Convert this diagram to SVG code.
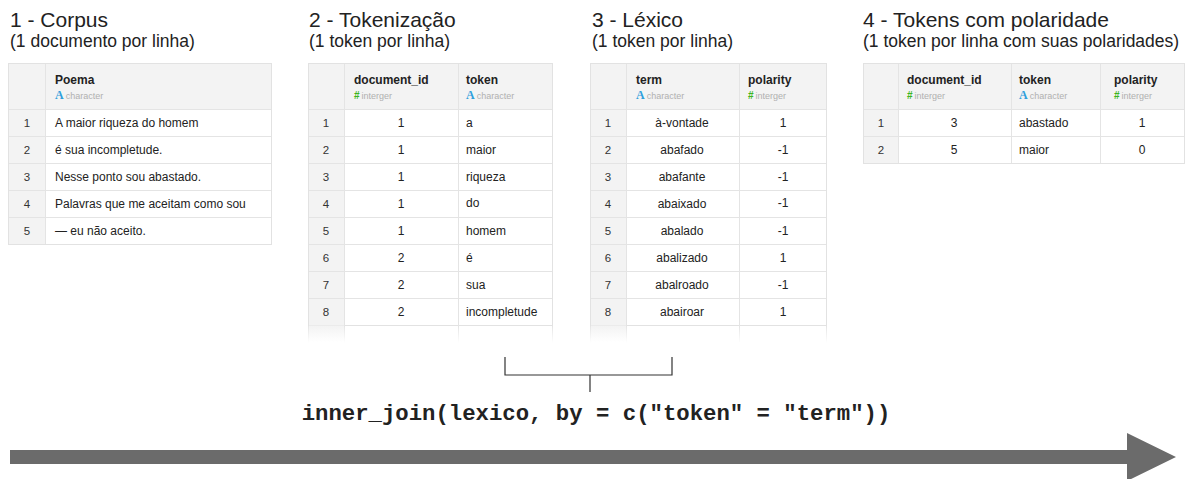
<svg xmlns="http://www.w3.org/2000/svg" width="1198" height="479" viewBox="0 0 1198 479">
<style>
.ttl{font-family:"Liberation Sans",Arial,sans-serif;font-size:21px;fill:#222}
.sub{font-family:"Liberation Sans",Arial,sans-serif;font-size:17.5px;fill:#222}
.hd{font-family:"Liberation Sans",Arial,sans-serif;font-size:12px;font-weight:bold;fill:#222}
.ty{font-family:"Liberation Sans",Arial,sans-serif;font-size:9px;fill:#b0b0b0}
.tA{font-family:"Liberation Serif","Times New Roman",serif;font-size:12px;font-weight:bold;fill:#2f9fdc}
.tN{font-family:"Liberation Sans",Arial,sans-serif;font-size:10px;font-weight:bold;fill:#3cb521}
.c{font-family:"Liberation Sans",Arial,sans-serif;font-size:12px;fill:#222}
.cm{font-family:"Liberation Sans",Arial,sans-serif;font-size:12px;fill:#222;text-anchor:middle}
.ix{font-family:"Liberation Sans",Arial,sans-serif;font-size:11.5px;fill:#333;text-anchor:middle}
.box{fill:#fff;stroke:#e2e2e2;stroke-width:1}
.gr{fill:#f3f3f3}
.ln{stroke:#e4e4e4;stroke-width:1;fill:none}
.code{font-family:"Liberation Mono","Courier New",monospace;font-size:22.3px;font-weight:bold;fill:#222;text-anchor:middle}
.br{stroke:#333;stroke-width:1.2;fill:none}
</style>
<defs>
<linearGradient id="fadeV" x1="0" y1="0" x2="0" y2="1">
<stop offset="0" stop-color="#e4e4e4"/>
<stop offset="1" stop-color="#ffffff"/>
</linearGradient>
<linearGradient id="fadeG" x1="0" y1="0" x2="0" y2="1">
<stop offset="0" stop-color="#f3f3f3"/>
<stop offset="1" stop-color="#ffffff"/>
</linearGradient>
</defs>

<g id="corpus">
<text class="ttl" x="10" y="27">1 - Corpus</text>
<text class="sub" x="10" y="47">(1 documento por linha)</text>
<rect class="box" x="8.5" y="63.5" width="263" height="181"/>
<rect class="gr" x="9" y="64" width="262" height="45.5"/>
<rect class="gr" x="9" y="109.5" width="36" height="134.5"/>
<path class="ln" d="M45.5 64V244 M9 109.5H271 M9 136.5H271 M9 163.5H271 M9 190.5H271 M9 217.5H271"/>
<text class="hd" x="55" y="84">Poema</text>
<text x="55" y="99"><tspan class="tA">A</tspan><tspan class="ty" dx="2">character</tspan></text>
<text class="ix" x="27" y="127">1</text><text class="c" x="55" y="127">A maior riqueza do homem</text>
<text class="ix" x="27" y="154">2</text><text class="c" x="55" y="154">é sua incompletude.</text>
<text class="ix" x="27" y="181">3</text><text class="c" x="55" y="181">Nesse ponto sou abastado.</text>
<text class="ix" x="27" y="208">4</text><text class="c" x="55" y="208">Palavras que me aceitam como sou</text>
<text class="ix" x="27" y="235">5</text><text class="c" x="55" y="235">— eu não aceito.</text>
</g>

<g id="tokenizacao">
<text class="ttl" x="309" y="27">2 - Tokenização</text>
<text class="sub" x="309" y="47">(1 token por linha)</text>
<rect class="box" x="308.5" y="63.5" width="244" height="262"/>
<rect class="gr" x="309" y="64" width="243" height="45.5"/>
<rect class="gr" x="309" y="109.5" width="35" height="216"/>
<rect fill="url(#fadeG)" x="309" y="326" width="35" height="16"/>
<path class="ln" d="M344.5 64V326 M458.5 64V326 M309 109.5H552 M309 136.5H552 M309 163.5H552 M309 190.5H552 M309 217.5H552 M309 244.5H552 M309 271.5H552 M309 298.5H552"/>
<path stroke="url(#fadeV)" stroke-width="1" d="M308.5 326V343 M344.5 326V343 M458.5 326V343 M552.5 326V343"/>
<text class="hd" x="354" y="84">document_id</text>
<text x="354" y="99"><tspan class="tN">#</tspan><tspan class="ty" dx="2">interger</tspan></text>
<text class="hd" x="466" y="84">token</text>
<text x="466" y="99"><tspan class="tA">A</tspan><tspan class="ty" dx="2">character</tspan></text>
<text class="ix" x="326" y="127">1</text><text class="cm" x="401" y="127">1</text><text class="c" x="466" y="127">a</text>
<text class="ix" x="326" y="154">2</text><text class="cm" x="401" y="154">1</text><text class="c" x="466" y="154">maior</text>
<text class="ix" x="326" y="181">3</text><text class="cm" x="401" y="181">1</text><text class="c" x="466" y="181">riqueza</text>
<text class="ix" x="326" y="208">4</text><text class="cm" x="401" y="208">1</text><text class="c" x="466" y="207">do</text>
<text class="ix" x="326" y="235">5</text><text class="cm" x="401" y="235">1</text><text class="c" x="466" y="235">homem</text>
<text class="ix" x="326" y="262">6</text><text class="cm" x="401" y="262">2</text><text class="c" x="466" y="262">é</text>
<text class="ix" x="326" y="289">7</text><text class="cm" x="401" y="289">2</text><text class="c" x="466" y="289">sua</text>
<text class="ix" x="326" y="316">8</text><text class="cm" x="401" y="316">2</text><text class="c" x="466" y="316">incompletude</text>
</g>

<g id="lexico">
<text class="ttl" x="592" y="27">3 - Léxico</text>
<text class="sub" x="592" y="47">(1 token por linha)</text>
<rect class="box" x="590.5" y="63.5" width="236" height="262"/>
<rect class="gr" x="591" y="64" width="235" height="45.5"/>
<rect class="gr" x="591" y="109.5" width="35" height="216"/>
<rect fill="url(#fadeG)" x="591" y="326" width="35" height="16"/>
<path class="ln" d="M626.5 64V326 M739.5 64V326 M591 109.5H826 M591 136.5H826 M591 163.5H826 M591 190.5H826 M591 217.5H826 M591 244.5H826 M591 271.5H826 M591 298.5H826"/>
<path stroke="url(#fadeV)" stroke-width="1" d="M590.5 326V343 M626.5 326V343 M739.5 326V343 M826.5 326V343"/>
<text class="hd" x="636" y="84">term</text>
<text x="636" y="99"><tspan class="tA">A</tspan><tspan class="ty" dx="2">character</tspan></text>
<text class="hd" x="748" y="84">polarity</text>
<text x="748" y="99"><tspan class="tN">#</tspan><tspan class="ty" dx="2">interger</tspan></text>
<text class="ix" x="608" y="127">1</text><text class="cm" x="682" y="127">à-vontade</text><text class="cm" x="783" y="127">1</text>
<text class="ix" x="608" y="154">2</text><text class="cm" x="682" y="154">abafado</text><text class="cm" x="783" y="154">-1</text>
<text class="ix" x="608" y="181">3</text><text class="cm" x="682" y="181">abafante</text><text class="cm" x="783" y="181">-1</text>
<text class="ix" x="608" y="208">4</text><text class="cm" x="682" y="208">abaixado</text><text class="cm" x="783" y="207">-1</text>
<text class="ix" x="608" y="235">5</text><text class="cm" x="682" y="235">abalado</text><text class="cm" x="783" y="235">-1</text>
<text class="ix" x="608" y="262">6</text><text class="cm" x="682" y="262">abalizado</text><text class="cm" x="783" y="262">1</text>
<text class="ix" x="608" y="289">7</text><text class="cm" x="682" y="289">abalroado</text><text class="cm" x="783" y="289">-1</text>
<text class="ix" x="608" y="316">8</text><text class="cm" x="682" y="316">abairoar</text><text class="cm" x="783" y="316">1</text>
</g>

<g id="tokens-polaridade">
<text class="ttl" x="863" y="27">4 - Tokens com polaridade</text>
<text class="sub" x="863" y="47">(1 token por linha com suas polaridades)</text>
<rect class="box" x="863.5" y="63.5" width="321" height="100"/>
<rect class="gr" x="864" y="64" width="320" height="45.5"/>
<rect class="gr" x="864" y="109.5" width="34" height="53.5"/>
<path class="ln" d="M898.5 64V163 M1011.5 64V163 M1100.5 64V163 M864 109.5H1184 M864 136.5H1184"/>
<text class="hd" x="907" y="84">document_id</text>
<text x="907" y="99"><tspan class="tN">#</tspan><tspan class="ty" dx="2">interger</tspan></text>
<text class="hd" x="1019" y="84">token</text>
<text x="1019" y="99"><tspan class="tA">A</tspan><tspan class="ty" dx="2">character</tspan></text>
<text class="hd" x="1114" y="84">polarity</text>
<text x="1114" y="99"><tspan class="tN">#</tspan><tspan class="ty" dx="2">interger</tspan></text>
<text class="ix" x="881" y="127">1</text><text class="cm" x="954" y="127">3</text><text class="c" x="1019" y="127">abastado</text><text class="cm" x="1142" y="127">1</text>
<text class="ix" x="881" y="154">2</text><text class="cm" x="954" y="154">5</text><text class="c" x="1019" y="154">maior</text><text class="cm" x="1142" y="154">0</text>
</g>

<g id="connectors">
<path class="br" d="M505 357V375H672V357 M590 375V392"/>
<text class="code" x="596" y="420">inner_join(lexico, by = c("token" = "term"))</text>
<path fill="#6b6b6b" d="M10 450H1127V433L1176 457L1127 481V464H10Z"/>
</g>
</svg>
